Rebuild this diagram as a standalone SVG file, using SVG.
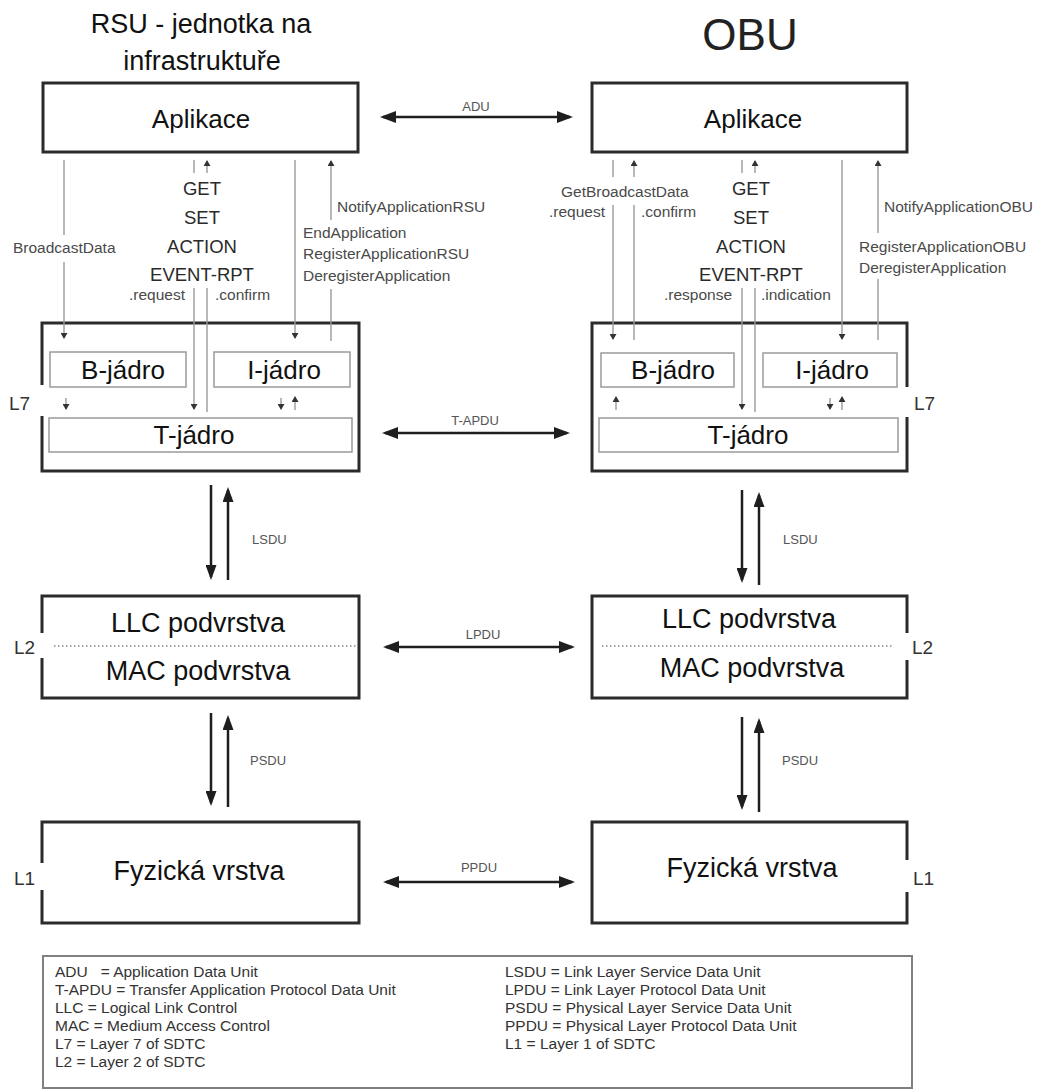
<svg xmlns="http://www.w3.org/2000/svg" width="1048" height="1090" viewBox="0 0 1048 1090">
<defs>
<style>
.box{fill:#fff;stroke:#2b2b2b;stroke-width:3}
.inner{fill:#fff;stroke:#9a9a9a;stroke-width:1.5}
.thin{fill:none;stroke:#9a9a9a;stroke-width:1.4}
.big{fill:none;stroke:#1e1e1e;stroke-width:2.5}
.dot{fill:none;stroke:#888888;stroke-width:1.4;stroke-dasharray:1.5 2.5}
.leg{fill:#fff;stroke:#808080;stroke-width:2}
text{font-family:"Liberation Sans",Arial,sans-serif}
.title{font-size:27px;fill:#111;text-anchor:middle}
.obu{font-size:44px;fill:#222;text-anchor:middle}
.node{font-size:26px;fill:#111;text-anchor:middle}
.layer{font-size:27px;fill:#111;text-anchor:middle}
.op{font-size:18.5px;fill:#2a2a2a;text-anchor:middle}
.sm{font-size:15.5px;fill:#4a4a4a}
.pdu{font-size:13px;fill:#555}
.pduc{font-size:13px;fill:#555;text-anchor:middle}
.lab{font-size:19px;fill:#333}
.lt{font-size:15.5px;fill:#333}
</style>
<marker id="sa" viewBox="0 0 6 7" markerWidth="6" markerHeight="7" refX="5" refY="3.5" orient="auto" markerUnits="userSpaceOnUse"><path d="M0,0 L6,3.5 L0,7 z" fill="#333"/></marker>
<marker id="ba" viewBox="0 0 16 12" markerWidth="16" markerHeight="12" refX="13" refY="6" orient="auto-start-reverse" markerUnits="userSpaceOnUse"><path d="M0,0 L16,6 L0,12 z" fill="#1e1e1e"/></marker>
<marker id="bv" viewBox="0 0 15 11" markerWidth="15" markerHeight="11" refX="12" refY="5.5" orient="auto" markerUnits="userSpaceOnUse"><path d="M0,0 L15,5.5 L0,11 z" fill="#1e1e1e"/></marker>
</defs>
<rect x="0" y="0" width="1048" height="1090" fill="#fff"/>

<g id="title-rsu">
<text class="title" x="201" y="33">RSU - jednotka na</text>
<text class="title" x="202" y="70">infrastruktuře</text>
</g>
<g id="title-obu">
<text class="obu" x="750" y="50">OBU</text>
</g>

<g id="app-rsu">
<rect class="box" x="43" y="83" width="315" height="69"/>
<text class="node" x="201" y="128">Aplikace</text>
</g>
<g id="app-obu">
<rect class="box" x="592" y="83" width="315" height="69"/>
<text class="node" x="753" y="128">Aplikace</text>
</g>

<g id="l7-rsu">
<path class="box" d="M42,385 V323 H359 V471 H42 V416"/>
<g id="b-jadro-rsu"><rect class="inner" x="50" y="352" width="136" height="35"/><text class="node" x="123" y="379">B-jádro</text></g>
<g id="i-jadro-rsu"><rect class="inner" x="214" y="352" width="136" height="35"/><text class="node" x="284" y="379">I-jádro</text></g>
<g id="t-jadro-rsu"><rect class="inner" x="49" y="418" width="303" height="34"/><text class="node" x="194" y="444">T-jádro</text></g>
<text class="lab" x="9" y="410">L7</text>
</g>
<g id="l7-obu">
<path class="box" d="M907,387 V323 H592 V471 H907 V417"/>
<g id="b-jadro-obu"><rect class="inner" x="601" y="353" width="133" height="34"/><text class="node" x="673" y="379">B-jádro</text></g>
<g id="i-jadro-obu"><rect class="inner" x="763" y="353" width="134" height="34"/><text class="node" x="832" y="379">I-jádro</text></g>
<g id="t-jadro-obu"><rect class="inner" x="599" y="418" width="299" height="34"/><text class="node" x="748" y="444">T-jádro</text></g>
<text class="lab" x="914" y="410">L7</text>
</g>

<g id="l2-rsu">
<path class="box" d="M42,633 V596 H359 V698 H42 V658"/>
<line class="dot" x1="54" y1="646" x2="356" y2="646"/>
<text class="layer" x="198" y="632">LLC podvrstva</text>
<text class="layer" x="198" y="680">MAC podvrstva</text>
<text class="lab" x="14" y="654">L2</text>
</g>
<g id="l2-obu">
<path class="box" d="M907,633 V596 H592 V698 H907 V660"/>
<line class="dot" x1="602" y1="646" x2="894" y2="646"/>
<text class="layer" x="749" y="628">LLC podvrstva</text>
<text class="layer" x="752" y="677">MAC podvrstva</text>
<text class="lab" x="912" y="654">L2</text>
</g>

<g id="l1-rsu">
<path class="box" d="M42,863 V822 H359 V923 H42 V890"/>
<text class="layer" x="199" y="880">Fyzická vrstva</text>
<text class="lab" x="14" y="885">L1</text>
</g>
<g id="l1-obu">
<path class="box" d="M907,860 V822 H592 V923 H907 V892"/>
<text class="layer" x="752" y="877">Fyzická vrstva</text>
<text class="lab" x="913" y="885">L1</text>
</g>

<g id="connectors">
<path class="thin" d="M64,160 V235"/>
<path class="thin" d="M64,262 V338" marker-end="url(#sa)"/>
<path class="thin" d="M194,160 V173"/>
<path class="thin" d="M194,288 V409" marker-end="url(#sa)"/>
<path class="thin" d="M207,173 V161" marker-end="url(#sa)"/>
<path class="thin" d="M207,288 V412"/>
<path class="thin" d="M295,160 V338" marker-end="url(#sa)"/>
<path class="thin" d="M331,220 V161" marker-end="url(#sa)"/>
<path class="thin" d="M331,289 V341"/>
<path class="thin" d="M66,398 V409" marker-end="url(#sa)"/>
<path class="thin" d="M281,398 V409" marker-end="url(#sa)"/>
<path class="thin" d="M295,410 V397" marker-end="url(#sa)"/>
<path class="thin" d="M613,160 V177"/>
<path class="thin" d="M613,205 V339" marker-end="url(#sa)"/>
<path class="thin" d="M634,177 V161" marker-end="url(#sa)"/>
<path class="thin" d="M634,205 V340"/>
<path class="thin" d="M742,160 V173"/>
<path class="thin" d="M742,288 V409" marker-end="url(#sa)"/>
<path class="thin" d="M755,173 V161" marker-end="url(#sa)"/>
<path class="thin" d="M755,288 V412"/>
<path class="thin" d="M842,160 V339" marker-end="url(#sa)"/>
<path class="thin" d="M878,233 V161" marker-end="url(#sa)"/>
<path class="thin" d="M878,279 V340"/>
<path class="thin" d="M616,410 V397" marker-end="url(#sa)"/>
<path class="thin" d="M830,398 V409" marker-end="url(#sa)"/>
<path class="thin" d="M842,410 V397" marker-end="url(#sa)"/>

<text class="sm" x="13" y="253">BroadcastData</text>
<text class="op" x="202" y="195">GET</text>
<text class="op" x="202" y="224">SET</text>
<text class="op" x="202" y="253">ACTION</text>
<text class="op" x="202" y="281">EVENT-RPT</text>
<text class="sm" x="129" y="300">.request</text>
<text class="sm" x="215" y="300">.confirm</text>
<text class="sm" x="337" y="212">NotifyApplicationRSU</text>
<text class="sm" x="303" y="238">EndApplication</text>
<text class="sm" x="303" y="259">RegisterApplicationRSU</text>
<text class="sm" x="303" y="281">DeregisterApplication</text>
<text class="sm" x="561" y="197">GetBroadcastData</text>
<text class="sm" x="549" y="217">.request</text>
<text class="sm" x="641" y="217">.confirm</text>
<text class="op" x="751" y="195">GET</text>
<text class="op" x="751" y="224">SET</text>
<text class="op" x="751" y="253">ACTION</text>
<text class="op" x="751" y="281">EVENT-RPT</text>
<text class="sm" x="664" y="300">.response</text>
<text class="sm" x="761" y="300">.indication</text>
<text class="sm" x="884" y="212">NotifyApplicationOBU</text>
<text class="sm" x="859" y="252">RegisterApplicationOBU</text>
<text class="sm" x="859" y="273">DeregisterApplication</text>

<path class="big" d="M383,117 H570" marker-start="url(#ba)" marker-end="url(#ba)"/>
<text class="pduc" x="476" y="111">ADU</text>
<path class="big" d="M385,433 H567" marker-start="url(#ba)" marker-end="url(#ba)"/>
<text class="pduc" x="475" y="425">T-APDU</text>
<path class="big" d="M386,647 H572" marker-start="url(#ba)" marker-end="url(#ba)"/>
<text class="pduc" x="483" y="639">LPDU</text>
<path class="big" d="M386,882 H572" marker-start="url(#ba)" marker-end="url(#ba)"/>
<text class="pduc" x="479" y="872">PPDU</text>

<path class="big" d="M211,485 V577" marker-end="url(#bv)"/>
<path class="big" d="M228,580 V490" marker-end="url(#bv)"/>
<text class="pdu" x="252" y="544">LSDU</text>
<path class="big" d="M742,490 V580" marker-end="url(#bv)"/>
<path class="big" d="M759,585 V495" marker-end="url(#bv)"/>
<text class="pdu" x="783" y="544">LSDU</text>
<path class="big" d="M211,713 V803" marker-end="url(#bv)"/>
<path class="big" d="M228,807 V718" marker-end="url(#bv)"/>
<text class="pdu" x="250" y="765">PSDU</text>
<path class="big" d="M742,717 V807" marker-end="url(#bv)"/>
<path class="big" d="M759,812 V721" marker-end="url(#bv)"/>
<text class="pdu" x="782" y="765">PSDU</text>
</g>

<g id="legend">
<rect class="leg" x="43" y="956" width="869" height="132"/>
<text class="lt" x="55" y="977" xml:space="preserve">ADU   = Application Data Unit</text>
<text class="lt" x="55" y="995">T-APDU = Transfer Application Protocol Data Unit</text>
<text class="lt" x="55" y="1013">LLC = Logical Link Control</text>
<text class="lt" x="55" y="1031">MAC = Medium Access Control</text>
<text class="lt" x="55" y="1049">L7 = Layer 7 of SDTC</text>
<text class="lt" x="55" y="1067">L2 = Layer 2 of SDTC</text>
<text class="lt" x="505" y="977">LSDU = Link Layer Service Data Unit</text>
<text class="lt" x="505" y="995">LPDU = Link Layer Protocol Data Unit</text>
<text class="lt" x="505" y="1013">PSDU = Physical Layer Service Data Unit</text>
<text class="lt" x="505" y="1031">PPDU = Physical Layer Protocol Data Unit</text>
<text class="lt" x="505" y="1049">L1 = Layer 1 of SDTC</text>
</g>
</svg>
